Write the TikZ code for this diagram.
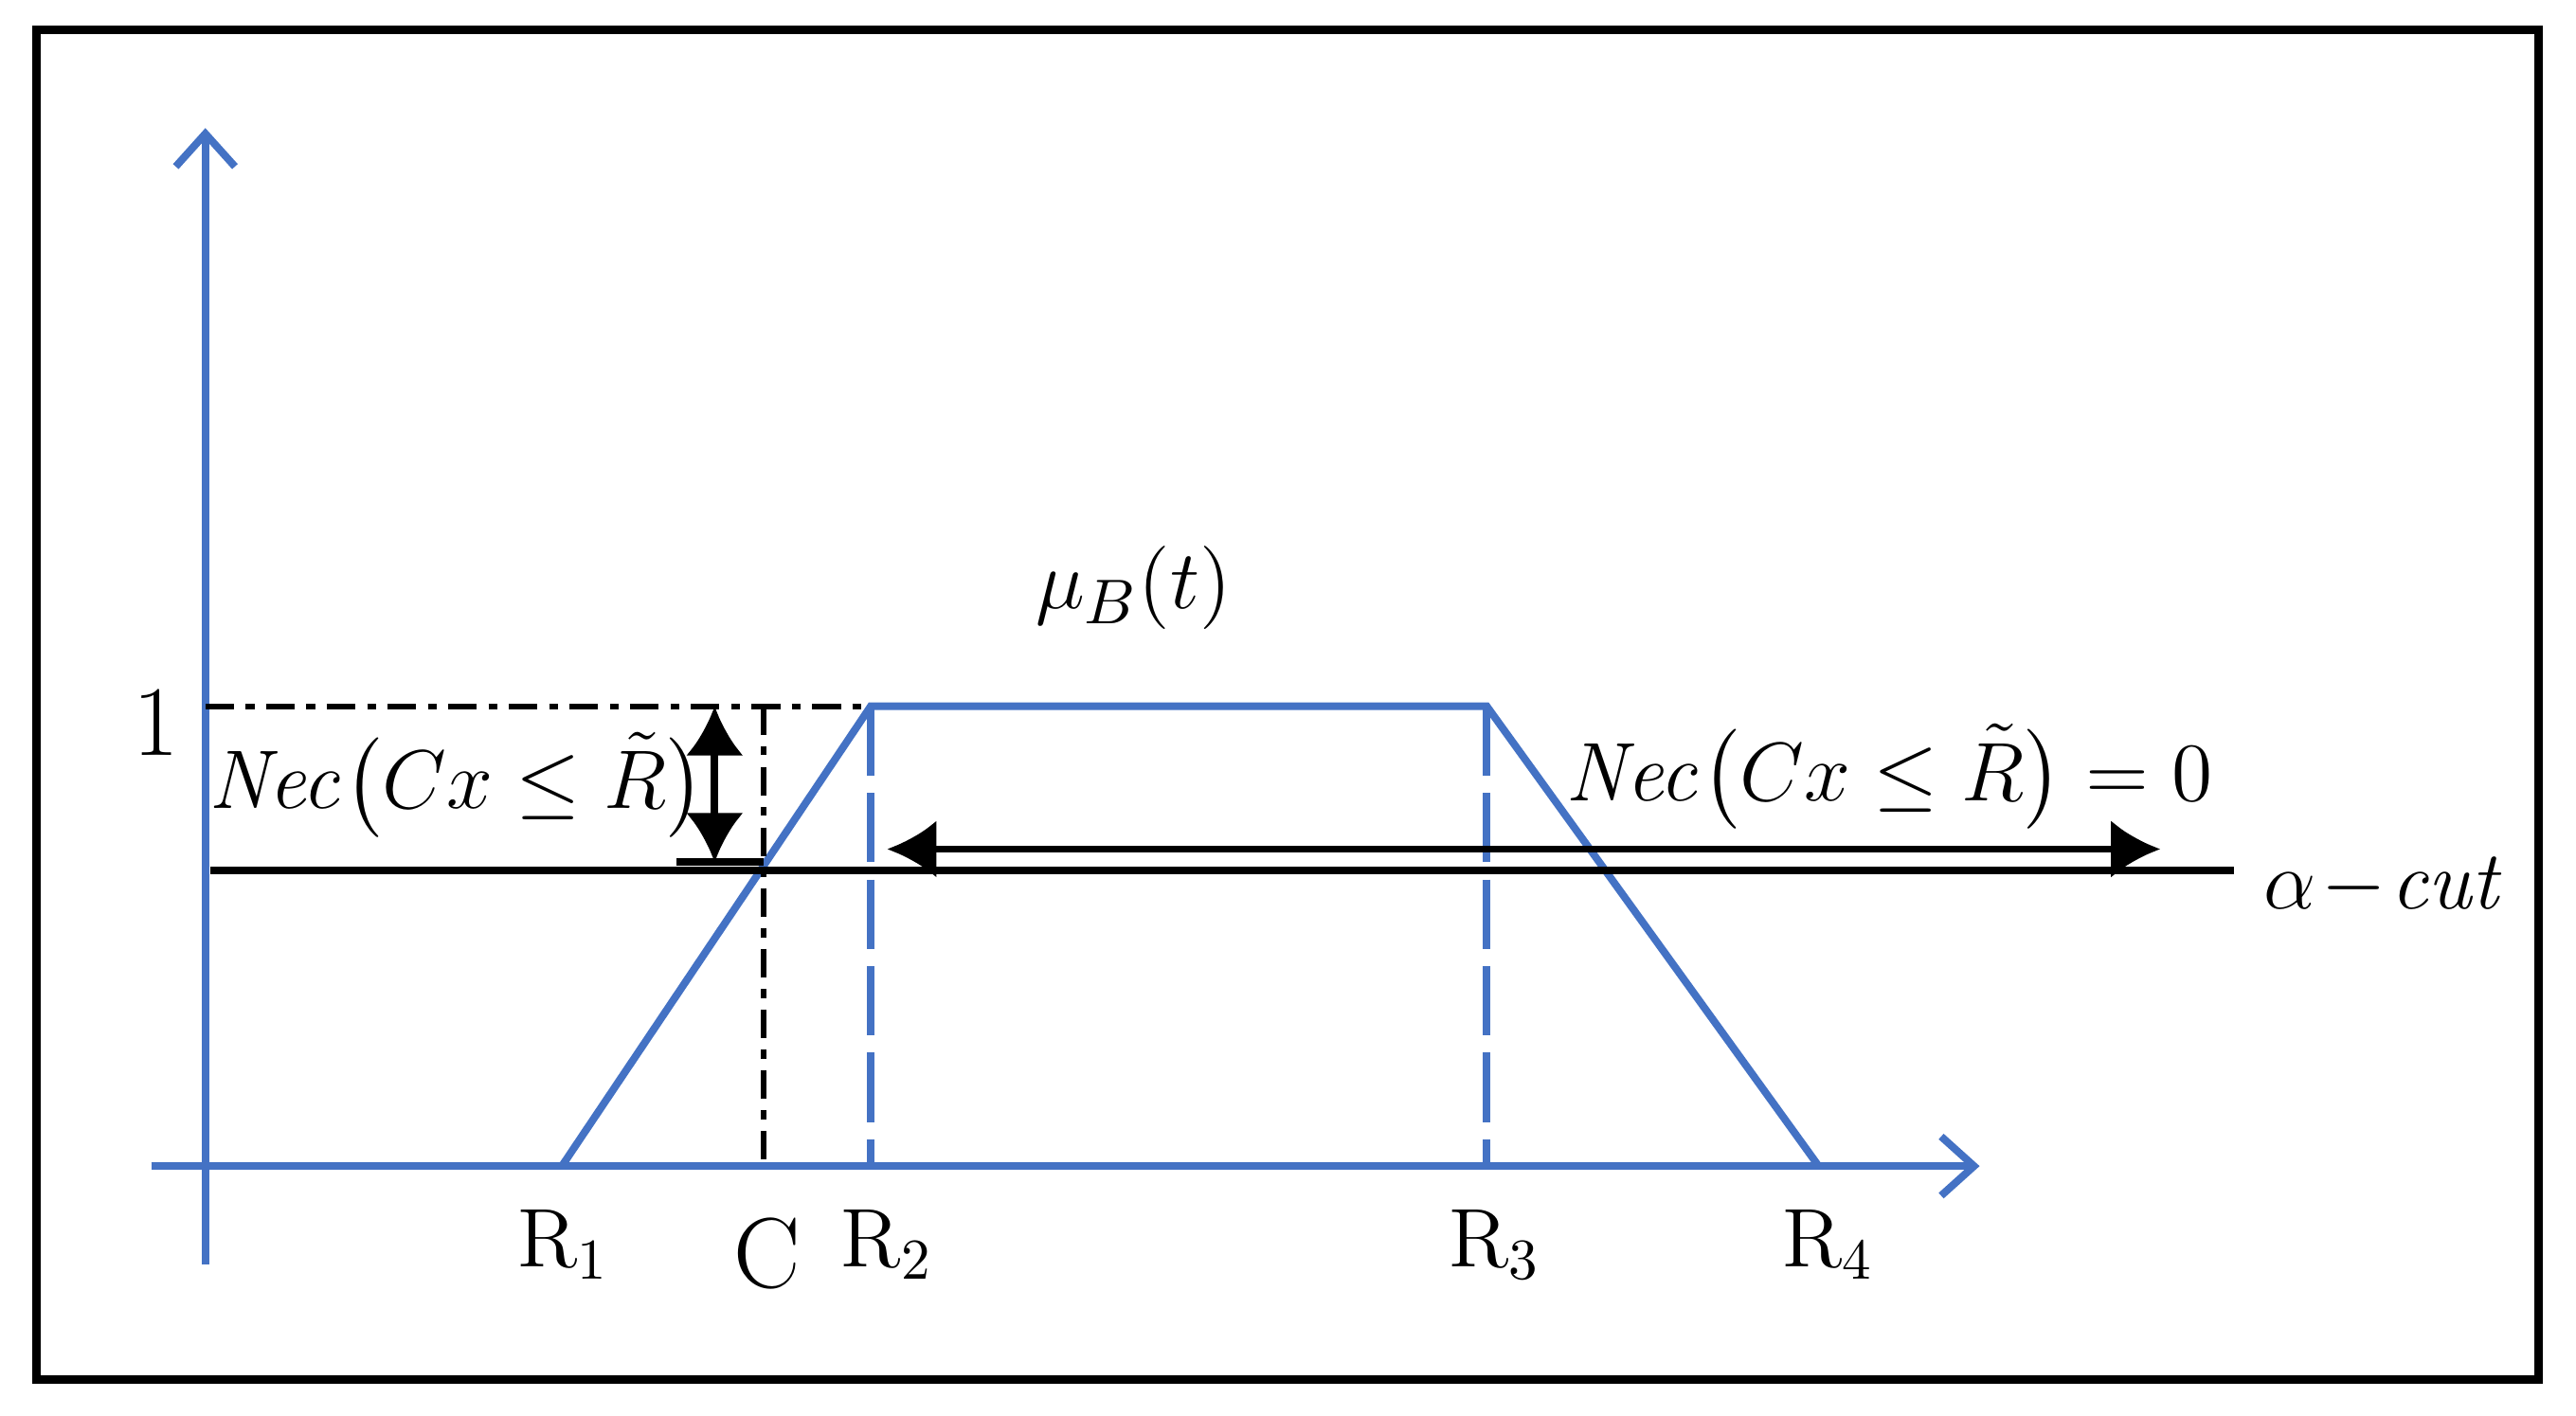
\documentclass[tikz,border=0pt]{standalone}
\usepackage{amsmath}
\usetikzlibrary{arrows.meta, positioning}
\definecolor{axisblue}{RGB}{68,114,196}

\begin{document}
\begin{tikzpicture}[x=0.01cm, y=-0.01cm,
    % Define styles
    blueline/.style={draw=axisblue, line width=1.3pt},
    axis/.style={blueline, -{Straight Barb[length=2mm, width=3.6mm, line width=1.3pt]}},
    bluedash/.style={blueline, dash pattern=on 12pt off 3pt},
    dashdot/.style={black, line width=1pt, dash pattern=on 5pt off 2pt on 1.5pt off 2pt},
    dblarrow/.style={black, line width=1.3pt, {Latex[length=3mm, width=3.5mm]}-{Latex[length=3mm, width=3.5mm]}},
    label/.style={font=\Large}
]
\useasboundingbox (0,0) rectangle (1568,862);
\draw[line width=1.5pt] (22,18) rectangle (1545,840);

% Points
\coordinate (origin) at (125,710);
\coordinate (ytop) at (125,78);
\coordinate (ybot) at (125,770);
\coordinate (xleft) at (92,710);
\coordinate (xright) at (1205,710);
\coordinate (r1) at (342,710);
\coordinate (r2top) at (530,430);
\coordinate (r3top) at (905,430);
\coordinate (r4) at (1107,710);
\coordinate (r2) at (530,710);
\coordinate (r3) at (905,710);
\coordinate (onemark) at (125,430);
\coordinate (c) at (465,710);
\coordinate (cutleft) at (128,530);
\coordinate (cutright) at (1360,530);

% Axes
\draw[axis] (ybot) -- (ytop);
\draw[axis] (xleft) -- (xright);

% Membership function
\draw[blueline] (r1) -- (r2top) -- (r3top) -- (r4);
\draw[bluedash] (r2top) -- (r2);
\draw[bluedash] (r3top) -- (r3);

% Helper lines
\draw[dashdot] (onemark) -- (r2top);
\draw[dashdot] (c |- r2top) -- (c);
\draw[black, line width=1.3pt] (cutleft) -- (cutright);

% Measures
\coordinate (necup) at (435,430);
\coordinate (necdown) at (435,525);
\draw[dblarrow] (necup) -- (necdown);
\draw[black, line width=1.3pt] (412,525) -- (465,525);
\coordinate (zeroleft) at (540,517);
\coordinate (zeroright) at (1315,517);
\draw[dblarrow] (zeroleft) -- (zeroright);

% Labels
\node[font=\LARGE] (one) at (95,440) {1};
\node[font=\fontsize{15}{18}\selectfont] (necleft) at (278,478) {$\mathit{Nec}\bigl(Cx \le \tilde{R}\bigr)$};
\node[font=\fontsize{13.5}{16}\selectfont] (necright) at (1150,473) {$\mathit{Nec}\bigl(Cx \le \tilde{R}\bigr) = 0$};
\node[font=\fontsize{15}{18}\selectfont] (mu) at (690,358) {$\mu_{B}(t)$};
\node[font=\fontsize{15}{18}\selectfont] (alpha) at (1452,540) {$\alpha\!-\!\mathit{cut}$};
\node[label] (lr1) at (343,758) {R\textsubscript{1}};
\node[font=\LARGE] (lc) at (467,763) {C};
\node[label] (lr2) at (540,758) {R\textsubscript{2}};
\node[label] (lr3) at (910,758) {R\textsubscript{3}};
\node[label] (lr4) at (1113,758) {R\textsubscript{4}};
\end{tikzpicture}
\end{document}
